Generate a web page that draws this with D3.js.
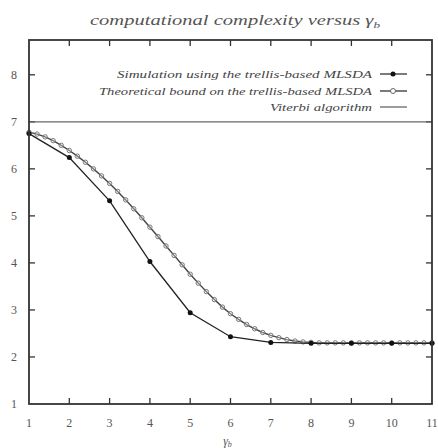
<!DOCTYPE html>
<html><head><meta charset="utf-8">
<script src="https://cdn.jsdelivr.net/npm/d3@7"></script>
<style>body{margin:0;background:#fff}svg{display:block}</style>
</head><body>
<svg id="c" width="438" height="448"></svg>
<script>
const xTicks = [1,2,3,4,5,6,7,8,9,10,11];
const yTicks = [1,2,3,4,5,6,7,8];
const simX = [1,2,3,4,5,6,7,8,9,10,11];
const simY = [6.75,6.24,5.32,4.03,2.94,2.43,2.31,2.29,2.29,2.29,2.29];
const theoX = [1.0,1.2,1.4,1.6,1.8,2.0,2.2,2.4,2.6,2.8,3.0,3.2,3.4,3.6,3.8,4.0,4.2,4.4,4.6,4.8,5.0,5.2,5.4,5.6,5.8,6.0,6.2,6.4,6.6,6.8,7.0,7.2,7.4,7.6,7.8,8.0,8.2,8.4,8.6,8.8,9.0,9.2,9.4,9.6,9.8,10.0,10.2,10.4,10.6,10.8,11.0];
const theoY = [6.78,6.74,6.68,6.60,6.50,6.39,6.27,6.14,6.00,5.85,5.69,5.52,5.34,5.15,4.96,4.76,4.56,4.36,4.16,3.96,3.76,3.57,3.39,3.22,3.06,2.92,2.80,2.69,2.60,2.52,2.46,2.41,2.37,2.34,2.32,2.31,2.30,2.30,2.30,2.30,2.30,2.30,2.30,2.30,2.30,2.30,2.30,2.30,2.30,2.30,2.30];
const viterbiY = 7;
const legendLabels = ["Simulation using the trellis-based MLSDA","Theoretical bound on the trellis-based MLSDA","Viterbi algorithm"];
const titleText = "computational complexity versus ";

const svg = d3.select("#c");
const L=29, R=432, T=40, B=404;
const x = d3.scaleLinear().domain([1,11]).range([L,R]);
const y = d3.scaleLinear().domain([1,8.74]).range([B,T]);
const ink = "#333";
const serif = "'Liberation Serif','DejaVu Serif',serif";

// title
const tt = svg.append("text").attr("x",90).attr("y",25)
  .attr("font-family",serif).attr("font-style","italic").attr("font-size",14).attr("fill","#555")
  .attr("textLength",290).attr("lengthAdjust","spacingAndGlyphs");
tt.append("tspan").text(titleText);
tt.append("tspan").text("γ");
tt.append("tspan").attr("font-size",9).attr("dy",3).text("b");

// ticks (mirror, inward)
const tl = 6;
const g = svg.append("g").attr("stroke",ink).attr("stroke-width",1.3);
xTicks.slice(1,-1).forEach(v=>{
  g.append("line").attr("x1",x(v)).attr("x2",x(v)).attr("y1",B).attr("y2",B-tl);
  g.append("line").attr("x1",x(v)).attr("x2",x(v)).attr("y1",T).attr("y2",T+tl);
});
yTicks.slice(1).forEach(v=>{
  g.append("line").attr("x1",L).attr("x2",L+tl).attr("y1",y(v)).attr("y2",y(v));
  g.append("line").attr("x1",R).attr("x2",R-tl).attr("y1",y(v)).attr("y2",y(v));
});
// tick labels
svg.append("g").selectAll("text").data(xTicks).join("text")
  .attr("x",d=>x(d)).attr("y",427).attr("text-anchor","middle")
  .attr("font-family",serif).attr("font-size",12).attr("fill","#555").text(d=>d);
svg.append("g").selectAll("text").data(yTicks).join("text")
  .attr("x",14).attr("y",d=>y(d)+4).attr("text-anchor","middle")
  .attr("font-family",serif).attr("font-size",12).attr("fill","#555").text(d=>d);
// x label
const xl = svg.append("text").attr("x",(L+R)/2-3).attr("y",445).attr("text-anchor","middle")
  .attr("font-family",serif).attr("font-style","italic").attr("font-size",12).attr("fill","#555");
xl.append("tspan").text("γ");
xl.append("tspan").attr("font-size",8).attr("dy",2).text("b");

// viterbi line
svg.append("line").attr("x1",L).attr("x2",R).attr("y1",y(viterbiY)).attr("y2",y(viterbiY))
  .attr("stroke","#666").attr("stroke-width",1.3);

const line = d3.line().x(d=>x(d[0])).y(d=>y(d[1]));
const theo = theoX.map((v,i)=>[v,theoY[i]]);
const sim = simX.map((v,i)=>[v,simY[i]]);
svg.append("path").datum(theo).attr("d",line).attr("fill","none").attr("stroke","#444").attr("stroke-width",1.4);
svg.append("g").selectAll("circle").data(theo).join("circle")
  .attr("cx",d=>x(d[0])).attr("cy",d=>y(d[1])).attr("r",2.2)
  .attr("fill","#fff").attr("fill-opacity",0.3).attr("stroke","#777").attr("stroke-width",1);
svg.append("path").datum(sim).attr("d",line).attr("fill","none").attr("stroke","#222").attr("stroke-width",1.3);
svg.append("g").selectAll("circle").data(sim).join("circle")
  .attr("cx",d=>x(d[0])).attr("cy",d=>y(d[1])).attr("r",2.5).attr("fill","#111");

// legend
const ly = [74,91,107];
const lx0 = [117,99,270];
legendLabels.forEach((t,i)=>{
  svg.append("text").attr("x",lx0[i]).attr("y",ly[i]+3.5)
    .attr("font-family",serif).attr("font-style","italic").attr("font-size",11).attr("fill","#444")
    .attr("textLength",372-lx0[i]).attr("lengthAdjust","spacingAndGlyphs").text(t);
  svg.append("line").attr("x1",380).attr("x2",407).attr("y1",ly[i]).attr("y2",ly[i])
    .attr("stroke",i==2?"#666":"#333").attr("stroke-width",1.3);
});
svg.append("circle").attr("cx",393).attr("cy",ly[0]).attr("r",2.5).attr("fill","#111");
svg.append("circle").attr("cx",393).attr("cy",ly[1]).attr("r",2.5).attr("fill","#fff").attr("stroke","#666");

// frame
svg.append("rect").attr("x",L).attr("y",T).attr("width",R-L).attr("height",B-T)
  .attr("fill","none").attr("stroke",ink).attr("stroke-width",1.8);
</script>
</body></html>
